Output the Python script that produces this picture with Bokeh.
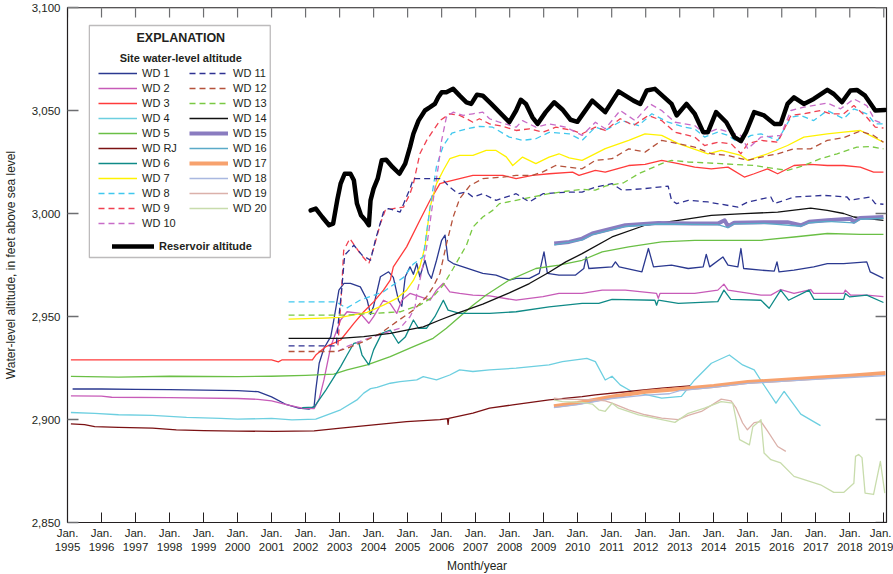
from bokeh.plotting import figure
from bokeh.models import (Range1d, FixedTicker, NumeralTickFormatter, Legend, LegendItem,
                          BoxAnnotation, Label, Span, Title)
from bokeh.embed import file_html
from bokeh.resources import INLINE

# ---------------- data (decimal year, altitude in feet) ----------------
years = list(range(1995, 2020))
alt_ticks = [2850, 2900, 2950, 3000, 3050, 3100]

reservoir = [(2002.15,3001.5),(2002.30,3002.4),(2002.49,2998.3),(2002.69,2994.3),(2002.81,2995.1),(2002.93,3006.4),
             (2003.03,3014.5),(2003.15,3019.3),(2003.32,3019.3),(2003.42,3016.1),(2003.51,3004.8),(2003.63,2999.1),
             (2003.76,2996.7),(2003.86,2994.3),(2003.91,3006.4),(2004.00,3012.1),(2004.12,3016.9),(2004.24,3025.8),
             (2004.37,3026.1),(2004.56,3022.5),(2004.76,3019.3),(2004.93,3024.2),(2005.07,3032.2),(2005.17,3038.7),
             (2005.32,3045.1),(2005.51,3050.0),(2005.66,3051.6),(2005.80,3053.2),(2005.90,3056.4),(2006.00,3058.8),
             (2006.14,3058.8),(2006.34,3060.5),(2006.53,3057.2),(2006.73,3054.0),(2006.87,3053.2),(2007.04,3057.7),
             (2007.21,3057.2),(2007.46,3053.2),(2007.99,3044.3),(2008.19,3050.0),(2008.33,3055.2),(2008.48,3053.2),
             (2008.67,3046.7),(2008.82,3043.5),(2009.06,3049.2),(2009.31,3054.0),(2009.55,3050.5),(2009.79,3045.5),
             (2009.99,3044.5),(2010.43,3054.8),(2010.81,3049.2),(2011.20,3059.3),(2011.64,3054.8),(2011.84,3053.2),
             (2012.03,3059.7),(2012.27,3060.5),(2012.76,3053.2),(2012.91,3047.6),(2013.20,3053.2),(2013.44,3048.4),
             (2013.69,3039.5),(2013.83,3039.5),(2014.07,3049.2),(2014.37,3044.3),(2014.61,3037.1),(2014.80,3035.1),
             (2014.95,3039.5),(2015.19,3049.2),(2015.48,3047.6),(2015.78,3043.5),(2015.97,3043.5),(2016.17,3053.2),
             (2016.36,3056.4),(2016.65,3053.2),(2016.94,3055.6),(2017.34,3060.0),(2017.53,3058.0),(2017.77,3054.0),
             (2018.02,3059.7),(2018.21,3060.0),(2018.45,3057.2),(2018.75,3050.0),(2019.04,3050.3)]

wd01 = [(1995.15,2914.8),(1996.0,2914.8),(1997.0,2914.6),(1998.0,2914.5),(1999.0,2914.3),(2000.0,2914.0),
        (2000.6,2913.5),(2001.0,2911.0),(2001.4,2907.5),(2001.8,2905.5),(2002.1,2905.0),(2002.25,2906.3),
        (2002.30,2914.4),(2002.40,2927.3),(2002.54,2934.6),(2002.74,2940.2),(2002.83,2948.3),(2002.98,2962.8),
        (2003.13,2966.1),(2003.32,2966.1),(2003.61,2964.4),(2003.81,2958.0),(2003.91,2951.0),(2004.0,2955.0),
        (2004.20,2969.3),(2004.44,2971.7),(2004.58,2969.0),(2004.73,2957.9),(2004.83,2955.0),(2004.93,2969.3),
        (2005.07,2974.1),(2005.17,2970.5),(2005.27,2975.7),(2005.36,2969.3),(2005.51,2977.3),(2005.61,2971.0),
        (2005.70,2968.5),(2005.85,2977.3),(2006.00,2987.0),(2006.10,2989.5),(2006.19,2977.3),(2006.34,2975.7),
        (2006.63,2974.1),(2006.92,2972.5),(2007.21,2970.9),(2007.60,2970.1),(2007.99,2967.7),(2008.19,2968.5),
        (2008.58,2968.5),(2008.87,2970.9),(2009.01,2981.4),(2009.11,2970.9),(2009.45,2970.1),(2009.94,2970.1),
        (2010.18,2973.3),(2010.25,2978.9),(2010.33,2973.3),(2011.01,2974.1),(2011.11,2976.5),(2011.22,2974.1),
        (2011.89,2971.7),(2012.08,2983.0),(2012.23,2974.1),(2012.76,2974.9),(2013.25,2973.3),(2013.69,2974.1),
        (2013.78,2980.2),(2013.88,2974.1),(2014.27,2978.9),(2014.42,2974.9),(2014.71,2974.1),(2014.80,2983.0),
        (2014.88,2973.3),(2015.39,2972.5),(2015.78,2972.0),(2015.86,2976.5),(2015.92,2971.7),(2016.36,2972.5),
        (2016.94,2974.1),(2017.34,2975.7),(2017.82,2975.7),(2018.50,2976.5),(2018.60,2971.7),(2018.99,2968.5)]

wd02 = [(1995.1,2911.5),(1996.0,2911.3),(1996.3,2910.8),(1998.0,2910.6),(2000.0,2910.2),(2000.6,2909.8),
        (2001.0,2909.0),(2001.5,2907.0),(2001.9,2905.5),(2002.25,2905.3),(2002.40,2910.0),(2002.54,2919.2),
        (2002.74,2935.4),(2003.03,2948.3),(2003.22,2952.3),(2003.61,2951.5),(2003.86,2946.7),(2004.0,2949.9),
        (2004.29,2957.9),(2004.49,2956.3),(2004.68,2951.5),(2004.83,2957.9),(2005.07,2961.2),(2005.36,2959.6),
        (2005.66,2957.9),(2005.85,2962.8),(2006.05,2966.1),(2006.24,2962.0),(2006.53,2961.2),(2006.92,2960.4),
        (2007.41,2960.0),(2008.19,2957.9),(2008.98,2959.6),(2009.45,2961.2),(2010.13,2961.2),(2010.72,2962.8),
        (2011.40,2962.8),(2012.32,2961.2),(2012.37,2958.8),(2012.42,2961.2),(2013.44,2961.2),(2014.12,2962.8),
        (2014.30,2965.7),(2014.42,2962.8),(2015.39,2960.4),(2015.68,2960.4),(2015.97,2963.1),(2016.36,2961.2),
        (2016.85,2963.1),(2016.94,2961.2),(2017.82,2961.2),(2017.87,2962.8),(2018.02,2960.4),(2018.50,2960.4),
        (2018.99,2959.6)]

wd03 = [(1995.1,2928.9),(1997.0,2928.9),(1999.0,2928.9),(2001.0,2928.9),(2001.2,2928.0),(2001.3,2928.9),
        (2002.0,2928.9),(2002.2,2929.0),(2002.3,2931.3),(2002.6,2935.4),(2003.03,2938.6),(2003.42,2946.7),
        (2003.71,2952.3),(2004.0,2957.1),(2004.29,2962.8),(2004.49,2967.7),(2004.58,2974.1),(2004.97,2983.8),
        (2005.36,2996.7),(2005.66,3006.4),(2005.95,3014.5),(2006.14,3015.3),(2006.53,3016.9),(2006.92,3018.5),
        (2007.80,3018.5),(2008.19,3016.9),(2008.67,3018.5),(2009.16,3019.3),(2009.85,3020.1),(2010.04,3018.5),
        (2010.52,3020.9),(2010.81,3020.1),(2011.50,3023.3),(2011.98,3023.8),(2012.47,3025.8),(2012.96,3024.2),
        (2013.44,3022.5),(2013.93,3021.7),(2014.42,3022.5),(2014.90,3017.7),(2015.19,3019.3),(2015.58,3021.7),
        (2015.88,3019.3),(2016.36,3023.3),(2016.85,3023.8),(2017.34,3023.3),(2017.82,3023.3),(2018.31,3022.5),
        (2018.70,3020.1),(2018.99,3020.1)]

wd04 = [(1995.1,2903.4),(1995.8,2903.0),(1996.5,2902.3),(1997.5,2902.0),(1998.5,2901.0),(1999.5,2900.5),
        (2000.0,2900.2),(2001.0,2900.5),(2001.6,2899.8),(2002.3,2900.2),(2003.03,2904.7),(2003.51,2909.5),
        (2003.71,2912.8),(2003.91,2915.0),(2004.10,2915.6),(2004.49,2917.6),(2004.78,2918.4),(2005.27,2919.2),
        (2005.46,2920.8),(2005.85,2919.2),(2006.24,2921.6),(2006.53,2924.1),(2006.92,2923.3),(2007.41,2924.1),
        (2008.19,2924.9),(2009.16,2926.5),(2009.55,2928.1),(2010.27,2929.7),(2010.52,2928.1),(2010.81,2919.2),
        (2011.01,2921.0),(2011.25,2916.8),(2011.59,2913.6),(2012.47,2910.4),(2013.05,2911.2),(2013.44,2919.2),
        (2013.93,2927.3),(2014.46,2931.3),(2014.85,2926.5),(2015.19,2924.1),(2015.44,2917.6),(2015.83,2907.9),
        (2016.07,2913.6),(2016.56,2902.6),(2017.14,2897.0)]

wd05 = [(1995.1,2920.9),(1996.5,2920.6),(1998.0,2921.0),(2000.0,2920.8),(2001.0,2921.0),(2002.0,2921.4),
        (2002.83,2922.0),(2003.22,2924.1),(2003.81,2926.5),(2004.49,2930.5),(2005.17,2935.4),(2005.75,2939.4),
        (2006.14,2944.3),(2006.53,2949.9),(2006.92,2955.5),(2007.31,2960.4),(2007.99,2967.7),(2008.77,2973.3),
        (2009.45,2974.9),(2010.13,2977.3),(2010.72,2981.4),(2011.50,2983.8),(2012.47,2986.2),(2013.44,2987.0),
        (2014.42,2987.0),(2015.39,2987.0),(2016.36,2988.6),(2017.34,2990.3),(2018.31,2989.9),(2018.99,2989.9)]

wdrj = [(1995.1,2897.9),(1995.5,2897.5),(1995.8,2896.5),(1996.5,2896.2),(1997.5,2895.8),(1998.2,2895.0),
        (1999.0,2894.6),(2000.0,2894.4),(2001.08,2894.2),(2002.25,2894.5),(2003.03,2895.8),(2004.0,2897.4),
        (2004.97,2899.0),(2005.95,2899.9),(2006.17,2900.4),(2006.19,2897.6),(2006.21,2900.6),(2006.92,2903.1),
        (2007.41,2905.5),(2008.09,2907.1),(2009.16,2909.5),(2010.13,2911.1),(2010.52,2912.0),(2011.50,2913.6),
        (2012.47,2915.2),(2013.30,2916.3)]

wd06 = [(2001.9,2905.8),(2002.25,2906.0),(2002.6,2914.4),(2003.03,2925.7),(2003.22,2931.3),(2003.42,2937.0),
        (2003.56,2937.5),(2003.66,2931.3),(2003.86,2926.5),(2004.0,2933.8),(2004.24,2941.8),(2004.49,2943.4),
        (2004.73,2937.0),(2004.93,2940.0),(2005.17,2948.3),(2005.32,2944.3),(2005.56,2944.3),(2005.80,2949.9),
        (2006.05,2957.9),(2006.19,2953.1),(2006.53,2951.5),(2007.41,2951.5),(2008.19,2952.3),(2009.16,2954.7),
        (2010.13,2956.4),(2010.62,2956.4),(2011.01,2958.3),(2012.27,2957.9),(2012.32,2955.5),(2012.37,2957.9),
        (2012.96,2956.4),(2014.12,2957.2),(2014.30,2962.8),(2014.50,2958.3),(2015.39,2957.9),(2015.63,2954.0),
        (2015.97,2962.8),(2016.20,2957.9),(2016.80,2962.8),(2016.95,2958.3),(2017.82,2958.3),(2017.87,2961.2),
        (2018.00,2959.5),(2018.50,2960.4),(2018.99,2956.8)]

wd07 = [(2001.5,2948.7),(2002.5,2949.2),(2003.03,2949.6),(2003.81,2952.0),(2004.29,2955.5),(2004.68,2958.8),
        (2004.97,2962.8),(2005.17,2967.5),(2005.36,2974.1),(2005.51,2983.8),(2005.66,3003.1),(2005.85,3014.5),
        (2006.05,3021.0),(2006.24,3026.6),(2006.53,3028.2),(2006.92,3028.2),(2007.31,3030.6),(2007.60,3030.6),
        (2007.90,3027.5),(2008.09,3023.3),(2008.38,3027.4),(2008.77,3024.2),(2009.16,3027.4),(2009.45,3029.0),
        (2009.75,3027.0),(2010.13,3025.8),(2010.81,3031.5),(2011.50,3035.5),(2011.98,3038.7),(2012.47,3037.9),
        (2012.96,3033.9),(2013.83,3029.0),(2014.22,3030.6),(2014.80,3028.2),(2015.00,3025.8),(2015.58,3029.0),
        (2016.17,3033.0),(2016.65,3037.1),(2017.34,3038.7),(2017.82,3039.5),(2018.31,3040.3),(2018.70,3037.1),
        (2018.99,3034.6)]

wd08 = [(2001.5,2957.1),(2002.9,2957.1),(2003.2,2954.0),(2003.61,2958.0),(2004.29,2962.0),(2004.88,2969.0),
        (2005.17,2975.5),(2005.46,2979.0),(2005.66,3003.0),(2005.85,3023.0),(2006.05,3033.0),(2006.30,3039.0),
        (2006.73,3041.1),(2007.11,3042.3),(2007.50,3041.9),(2007.99,3037.1),(2008.38,3035.5),(2008.77,3036.3),
        (2009.16,3039.4),(2009.75,3038.7),(2010.13,3035.5),(2010.52,3041.9),(2010.81,3040.3),(2011.30,3045.1),
        (2011.79,3042.7),(2012.18,3048.4),(2012.66,3044.3),(2013.15,3041.9),(2013.44,3041.1),(2013.73,3037.1),
        (2014.12,3039.5),(2014.42,3037.9),(2014.71,3034.6),(2015.10,3037.9),(2015.39,3038.7),(2015.88,3035.5),
        (2016.27,3046.7),(2016.56,3047.6),(2016.94,3045.1),(2017.34,3050.0),(2017.82,3046.0),(2018.12,3050.8),
        (2018.50,3048.4),(2018.75,3043.5),(2018.99,3043.5)]

wd09 = [(2002.95,2936.0),(2003.05,2960.0),(2003.12,2982.0),(2003.30,2987.8),(2003.64,2979.8),(2003.86,2975.7),
        (2004.0,2983.0),(2004.20,2995.1),(2004.34,3001.5),(2004.58,3002.4),(2004.88,3003.1),(2005.07,3009.6),
        (2005.17,3014.5),(2005.36,3029.0),(2005.56,3035.5),(2005.75,3040.3),(2005.95,3045.1),(2006.24,3048.4),
        (2006.53,3047.6),(2006.73,3046.0),(2006.92,3044.3),(2007.11,3046.0),(2007.41,3043.5),(2007.75,3042.5),
        (2008.19,3040.3),(2008.58,3041.1),(2008.98,3039.5),(2009.36,3041.9),(2009.85,3040.3),(2010.13,3038.7),
        (2010.52,3041.9),(2010.81,3040.3),(2011.25,3046.0),(2011.64,3042.7),(2012.08,3047.6),(2012.47,3045.1),
        (2012.86,3039.5),(2013.44,3037.1),(2013.73,3033.0),(2014.12,3034.6),(2014.51,3033.9),(2014.80,3029.0),
        (2015.00,3033.9),(2015.39,3035.5),(2015.88,3034.6),(2016.27,3047.6),(2016.65,3048.4),(2017.14,3050.0),
        (2017.43,3048.4),(2017.82,3048.4),(2018.12,3052.4),(2018.50,3046.7),(2018.75,3041.9),(2018.99,3041.5)]

wd10 = [(2002.95,2933.0),(2003.20,2935.4),(2003.71,2938.6),(2004.29,2941.8),(2004.78,2944.3),(2005.07,2949.9),
        (2005.22,2954.7),(2005.27,2961.2),(2005.36,2967.5),(2005.56,2983.8),(2005.75,3006.4),(2005.90,3022.5),
        (2006.00,3035.5),(2006.14,3046.7),(2006.34,3049.2),(2006.63,3047.6),(2006.92,3048.4),(2007.21,3049.2),
        (2007.41,3046.0),(2007.70,3044.3),(2008.19,3041.9),(2008.38,3045.1),(2008.77,3041.9),(2009.16,3043.5),
        (2009.65,3041.9),(2010.13,3037.9),(2010.52,3044.3),(2010.81,3041.1),(2011.25,3050.0),(2011.69,3045.1),
        (2012.13,3053.2),(2012.47,3050.0),(2012.86,3044.3),(2013.44,3042.7),(2013.73,3038.7),(2014.12,3041.1),
        (2014.80,3037.9),(2015.00,3031.4),(2015.39,3037.1),(2015.97,3037.9),(2016.27,3050.0),(2016.65,3051.6),
        (2017.34,3053.6),(2017.73,3050.8),(2018.12,3055.6),(2018.50,3052.4),(2018.75,3045.1),(2018.99,3043.5)]

wd11 = [(2001.5,2935.7),(2002.9,2935.7),(2002.95,2945.0),(2003.06,2962.8),(2003.15,2979.8),(2003.42,2984.6),
        (2003.66,2979.8),(2003.91,2977.3),(2004.05,2987.0),(2004.29,3000.7),(2004.44,3002.4),(2004.78,3000.7),
        (2005.07,3012.1),(2005.17,3016.9),(2005.56,3016.9),(2005.95,3016.9),(2006.05,3016.1),(2006.24,3012.8),
        (2006.48,3009.6),(2006.73,3010.4),(2006.92,3008.0),(2007.21,3009.6),(2007.60,3006.4),(2008.19,3009.6),
        (2008.58,3005.6),(2008.98,3009.6),(2009.75,3010.4),(2010.13,3010.4),(2010.52,3012.8),(2011.01,3014.5),
        (2011.30,3011.3),(2011.98,3012.1),(2012.66,3013.3),(2012.76,3006.4),(2012.91,3004.8),(2013.25,3006.4),
        (2013.83,3005.6),(2014.71,3003.1),(2015.00,3005.6),(2015.68,3008.0),(2015.78,3004.8),(2016.36,3008.0),
        (2017.23,3008.8),(2017.92,3008.0),(2018.00,3006.4),(2018.60,3008.0),(2018.75,3004.8),(2018.99,3004.5)]

wd12 = [(2001.5,2933.0),(2002.9,2933.0),(2003.22,2934.6),(2003.71,2937.9),(2004.20,2941.8),(2004.68,2947.5),
        (2005.17,2953.1),(2005.56,2959.6),(2005.75,2964.4),(2005.95,2970.9),(2006.14,2985.0),(2006.34,2998.3),
        (2006.53,3007.2),(2006.83,3013.5),(2007.21,3016.9),(2007.80,3017.7),(2008.19,3018.5),(2008.67,3018.5),
        (2008.96,3020.1),(2009.35,3023.3),(2009.74,3022.5),(2010.13,3021.7),(2010.52,3025.8),(2011.01,3026.6),
        (2011.50,3031.4),(2011.98,3029.8),(2012.47,3035.5),(2012.96,3033.9),(2013.44,3032.2),(2013.93,3029.0),
        (2014.42,3028.2),(2015.00,3025.8),(2015.39,3027.4),(2015.88,3029.0),(2016.36,3031.4),(2016.85,3031.4),
        (2017.34,3035.5),(2017.82,3036.8),(2018.31,3040.0),(2018.70,3037.9),(2018.99,3034.6)]

wd13 = [(2001.5,2950.7),(2003.22,2950.7),(2004.0,2951.5),(2004.78,2952.3),(2005.36,2955.5),(2005.75,2959.6),
        (2006.05,2965.3),(2006.34,2973.3),(2006.73,2984.6),(2006.92,2993.4),(2007.21,2998.3),(2007.50,3001.5),
        (2007.70,3004.8),(2008.19,3006.4),(2008.67,3008.0),(2009.16,3009.6),(2009.65,3010.8),(2010.13,3011.7),
        (2010.52,3011.3),(2010.81,3013.3),(2011.35,3014.9),(2011.79,3019.3),(2012.47,3024.2),(2012.76,3025.8),
        (2013.25,3025.0),(2014.22,3024.2),(2015.19,3023.3),(2016.17,3020.9),(2016.65,3023.3),(2017.14,3026.6),
        (2017.63,3029.0),(2018.21,3032.2),(2018.60,3032.5),(2018.99,3031.4)]

wd14 = [(2001.5,2939.4),(2003.0,2939.4),(2003.71,2940.2),(2004.49,2941.8),(2004.97,2943.4),(2005.46,2945.0),
        (2005.95,2948.3),(2006.53,2952.0),(2007.21,2956.0),(2007.99,2961.5),(2008.58,2966.0),(2009.16,2971.5),
        (2009.65,2976.5),(2010.13,2980.5),(2011.01,2988.6),(2011.98,2994.3),(2012.96,2996.7),(2013.93,2999.1),
        (2014.90,2999.9),(2015.88,3000.7),(2016.85,3002.6),(2017.34,3001.5),(2017.82,3000.0),(2018.12,2998.3),
        (2018.99,2996.7)]

wd15 = [(2009.31,2985.4),(2009.75,2986.2),(2010.13,2987.8),(2010.43,2990.3),(2011.40,2994.3),(2012.37,2995.4),
        (2013.35,2995.1),(2014.12,2995.1),(2014.32,2996.7),(2014.42,2993.8),(2014.60,2995.5),(2015.50,2995.8),
        (2016.17,2995.8),(2016.56,2994.3),(2016.80,2996.0),(2017.34,2996.7),(2018.02,2997.5),(2018.12,2996.0),
        (2018.30,2997.8),(2018.99,2998.3)]

wd16 = [(2009.31,2984.8),(2010.13,2987.2),(2010.43,2989.8),(2011.40,2993.7),(2012.37,2994.9),(2014.12,2994.6),
        (2014.42,2993.2),(2014.60,2995.0),(2015.50,2995.2),(2016.56,2993.8),(2016.80,2995.5),(2017.34,2996.2),
        (2018.12,2995.4),(2018.30,2997.2),(2018.99,2997.7)]

wd17 = [(2009.3,2906.5),(2010.0,2908.0),(2011.0,2911.0),(2012.0,2913.5),(2013.0,2914.8),(2014.0,2916.3),
        (2015.0,2918.2),(2016.0,2919.2),(2017.0,2920.3),(2018.0,2921.3),(2019.05,2922.6)]

wd18 = [(2009.3,2905.8),(2010.0,2907.2),(2011.0,2910.2),(2012.0,2911.8),(2012.7,2912.5),(2013.0,2914.0),
        (2014.0,2915.6),(2015.0,2917.5),(2016.0,2918.5),(2017.0,2919.5),(2018.0,2920.4),(2019.05,2921.3)]

wd19 = [(2009.3,2910.4),(2009.55,2909.9),(2010.52,2909.5),(2010.81,2909.0),(2011.01,2907.9),(2011.50,2904.7),
        (2011.98,2902.3),(2012.47,2900.7),(2012.96,2899.9),(2013.25,2902.0),(2013.64,2903.9),(2014.22,2909.9),
        (2014.51,2909.0),(2014.66,2905.5),(2014.85,2898.3),(2014.99,2895.0),(2015.19,2898.5),(2015.39,2899.0),
        (2015.58,2894.5),(2015.88,2886.9),(2016.12,2884.5)]

wd20 = [(2009.3,2909.5),(2009.55,2908.7),(2010.13,2908.3),(2010.43,2907.5),(2010.62,2904.7),(2010.81,2904.0),
        (2011.01,2907.9),(2011.20,2905.5),(2011.79,2902.3),(2012.47,2899.9),(2012.86,2898.6),(2013.25,2903.0),
        (2013.73,2905.5),(2014.22,2908.7),(2014.56,2907.9),(2014.66,2899.9),(2014.76,2890.2),(2015.05,2887.7),
        (2015.15,2896.5),(2015.39,2899.9),(2015.48,2883.7),(2015.68,2880.5),(2015.97,2878.9),(2016.36,2872.4),
        (2017.14,2868.3),(2017.53,2864.6),(2017.82,2864.6),(2018.12,2869.0),(2018.17,2882.1),(2018.26,2883.0),
        (2018.36,2881.5),(2018.45,2864.3),(2018.70,2863.6),(2018.90,2879.7),(2019.03,2864.3)]

# ---------------- styles ----------------
FONT = "Liberation Sans"
TXT = "#231f20"
TICK_GRAY = "#6d6e71"
DASH = "6 4"
series = [
    ("WD 1", wd01, "#2b3990", 1.3, "solid"),
    ("WD 2", wd02, "#c75bb8", 1.3, "solid"),
    ("WD 3", wd03, "#ff3b3b", 1.3, "solid"),
    ("WD 4", wd04, "#6dcfe0", 1.3, "solid"),
    ("WD 5", wd05, "#6abf45", 1.3, "solid"),
    ("WD RJ", wdrj, "#7b1113", 1.3, "solid"),
    ("WD 6", wd06, "#0f8a87", 1.3, "solid"),
    ("WD 7", wd07, "#fff200", 1.3, "solid"),
    ("WD 8", wd08, "#40c8ee", 1.3, DASH),
    ("WD 9", wd09, "#f04050", 1.3, DASH),
    ("WD 10", wd10, "#c86cc8", 1.3, DASH),
    ("WD 11", wd11, "#2e3192", 1.3, DASH),
    ("WD 12", wd12, "#b5523b", 1.3, DASH),
    ("WD 13", wd13, "#7ac943", 1.3, DASH),
    ("WD 14", wd14, "#111111", 1.3, "solid"),
    ("WD 15", wd15, "#8a7cc0", 4.0, "solid"),
    ("WD 16", wd16, "#5aaac8", 1.3, "solid"),
    ("WD 17", wd17, "#f7a26e", 4.0, "solid"),
    ("WD 18", wd18, "#a9b8e0", 1.3, "solid"),
    ("WD 19", wd19, "#dbb1aa", 1.3, "solid"),
    ("WD 20", wd20, "#c8dcac", 1.3, "solid"),
]

X0, X1 = 1995, 2019.08
Y0, Y1 = 2850, 3100
# the page written by file_html has no body margin, so the figure starts at the window's corner
p = figure(width=893, height=574, x_range=Range1d(X0, X1), y_range=Range1d(Y0, Y1),
           output_backend="svg", toolbar_location=None,
           min_border_left=62, min_border_right=7, min_border_top=7, min_border_bottom=52)
p.xgrid.visible = False
p.ygrid.visible = False
p.outline_line_color = TXT
p.outline_line_width = 1.2

xa = p.xaxis[0]
xa.ticker = FixedTicker(ticks=years)
xa.major_label_overrides = {y: "Jan.\n%d" % y for y in years}
xa.major_tick_in = 10
xa.major_tick_out = 0
xa.minor_tick_in = 0
xa.minor_tick_out = 0
xa.major_label_standoff = 4
xa.major_label_text_font = FONT
xa.major_label_text_font_size = "11.5px"
xa.major_label_text_color = TXT
xa.axis_line_color = TXT
xa.major_tick_line_color = TXT

ya = p.yaxis[0]
ya.ticker = FixedTicker(ticks=alt_ticks)
ya.formatter = NumeralTickFormatter(format="0,0")
ya.major_tick_in = 11
ya.major_tick_out = 0
ya.minor_tick_in = 0
ya.minor_tick_out = 0
ya.major_label_standoff = 7
ya.major_label_text_font = FONT
ya.major_label_text_font_size = "11.5px"
ya.major_label_text_color = TXT
ya.axis_label = "Water-level altitude, in feet above sea level"
ya.axis_label_text_font = FONT
ya.axis_label_text_font_size = "12px"
ya.axis_label_text_font_style = "normal"
ya.axis_label_text_color = TXT
ya.axis_label_standoff = 11
ya.axis_line_color = TXT
ya.major_tick_line_color = TICK_GRAY
ya.major_tick_line_width = 1.5

p.add_layout(Title(text="Month/year", align="center", text_font=FONT, text_font_size="12px",
                   text_font_style="normal", text_color=TXT, standoff=3, offset=0), "below")

# ---------------- annotation placement helpers (window pixels -> data) ----------------
FL, FT, FW, FH = 62, 7, 824, 515   # frame left/top/width/height in the window


def dx(px):
    return X0 + (px - FL) * (X1 - X0) / FW


def dy(py):
    return Y1 - (py - FT) * (Y1 - Y0) / FH


# ticks mirrored on the top and right frame edges
top_len = 10 * (Y1 - Y0) / FH
right_len = 11 * (X1 - X0) / FW
p.add_layout(Span(location=Y1, dimension="width", line_color="#8c8c8c", line_width=2))
p.segment(x0=years, x1=years, y0=[Y1] * len(years), y1=[Y1 - top_len] * len(years),
          line_color=TICK_GRAY, line_width=1.2)
p.segment(x0=[X1] * len(alt_ticks), x1=[X1 - right_len] * len(alt_ticks), y0=alt_ticks, y1=alt_ticks,
          line_color=TICK_GRAY, line_width=1.5)

# ---------------- lines ----------------
renderers = {}
for name, pts, color, width, dash in series:
    xs = [a for a, b in pts]
    ys = [b for a, b in pts]
    renderers[name] = p.line(xs, ys, line_color=color, line_width=width, line_dash=dash,
                             line_join="round")
res_r = p.line([a for a, b in reservoir], [b for a, b in reservoir], line_color="black",
               line_width=4.5, line_join="round", line_cap="round")

# ---------------- explanation box ----------------
box = BoxAnnotation(left=dx(84), right=dx(266), top=dy(25), bottom=dy(257),
                    fill_color="white", fill_alpha=1.0, line_color=TXT, line_width=1.3)
p.add_layout(box)
p.add_layout(Label(x=dx(176), y=dy(37), text="EXPLANATION", text_align="center",
                   text_baseline="middle", text_font=FONT, text_font_size="12.5px",
                   text_font_style="bold", text_color=TXT))
p.add_layout(Label(x=dx(176), y=dy(57), text="Site water-level altitude", text_align="center",
                   text_baseline="middle", text_font=FONT, text_font_size="11px",
                   text_font_style="bold", text_color=TXT))


def make_legend(names, loc, bold=False, gw=39, size="11px"):
    items = [LegendItem(label=n, renderers=[renderers.get(n, res_r)]) for n in names]
    return Legend(items=items, location=loc, orientation="vertical", padding=0, margin=0,
                  spacing=1, glyph_width=gw, glyph_height=14, label_height=14, label_standoff=5,
                  label_text_font=FONT, label_text_font_size=size, label_text_color=TXT,
                  label_text_font_style="bold" if bold else "normal",
                  border_line_color=None, background_fill_alpha=0.0)


FB = FT + FH   # frame bottom in the window
col1 = [s[0] for s in series[:11]]
col2 = [s[0] for s in series[11:]]
p.add_layout(make_legend(col1, (93 - FL, FB - 230)), "center")
p.add_layout(make_legend(col2, (184 - FL, FB - 215)), "center")
p.add_layout(make_legend(["Reservoir altitude"], (107 - FL, FB - 253), bold=True, gw=42), "center")

open("out.html", "w").write(file_html(p, INLINE))
